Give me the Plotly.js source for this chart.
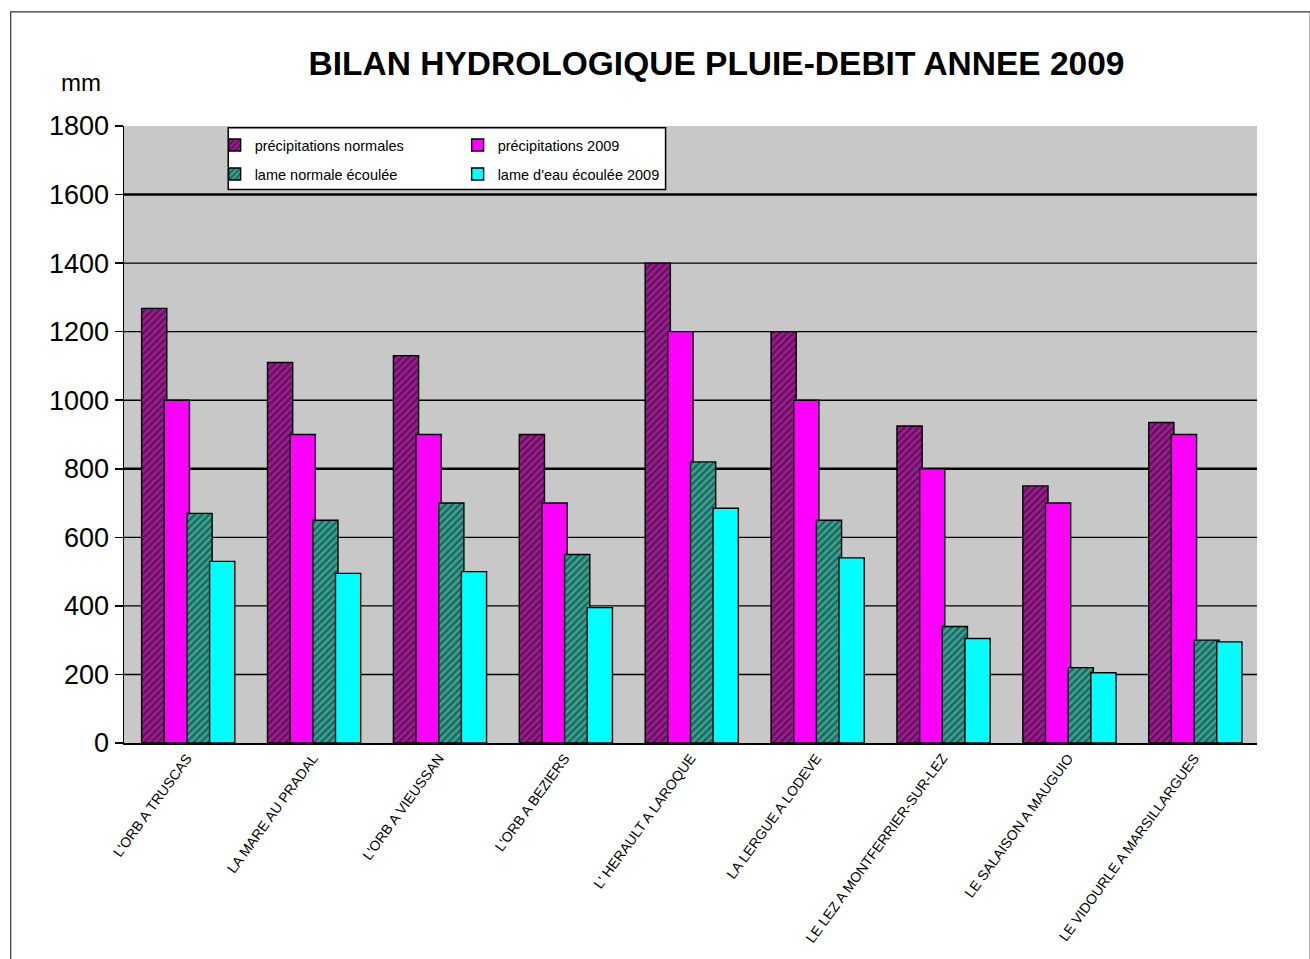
<!DOCTYPE html>
<html>
<head>
<meta charset="utf-8">
<script src="https://cdn.plot.ly/plotly-3.0.1.min.js"></script>
<style>html,body{margin:0;padding:0;background:#fff;}#chart{width:1310px;height:959px;}</style>
</head>
<body>
<div id="chart"></div>
<script>
const stations = ["L'ORB A TRUSCAS", "LA MARE AU PRADAL", "L'ORB A VIEUSSAN", "L'ORB A BEZIERS", "L' HERAULT A LAROQUE", "LA LERGUE A LODEVE", "LE LEZ A MONTFERRIER-SUR-LEZ", "LE SALAISON A MAUGUIO", "LE VIDOURLE A MARSILLARGUES"];
const precipNormales = [1268, 1110, 1130, 900, 1400, 1200, 925, 750, 935];
const precip2009 = [1000, 900, 900, 700, 1200, 1000, 800, 700, 900];
const lameNormale = [670, 650, 700, 550, 820, 650, 340, 220, 300];
const lame2009 = [530, 495, 500, 395, 685, 540, 305, 205, 295];
const seriesNames = ["précipitations normales", "précipitations 2009", "lame normale écoulée", "lame d'eau écoulée 2009"];
const yTicks = [0, 200, 400, 600, 800, 1000, 1200, 1400, 1600, 1800];

const FONT = "Liberation Sans, Arial, sans-serif";
const W = 0.2, OFF = [-0.36, -0.18, 0.0, 0.18];
const line = {color: '#000', width: 1.4};

const traces = [
  {y: precipNormales, name: seriesNames[0], legend: 'legend',
   marker: {color: '#7a1670', line: line, pattern: {shape: '/', bgcolor: '#a01e92', fgcolor: '#25062a', size: 5, solidity: 0.5, fillmode: 'overlay'}}},
  {y: precip2009, name: seriesNames[1], legend: 'legend',
   marker: {color: '#ff00ff', line: line}},
  {y: lameNormale, name: seriesNames[2], legend: 'legend2',
   marker: {color: '#2e8c80', line: line, pattern: {shape: '/', bgcolor: '#38a494', fgcolor: '#082824', size: 5, solidity: 0.5, fillmode: 'overlay'}}},
  {y: lame2009, name: seriesNames[3], legend: 'legend2',
   marker: {color: '#00ffff', line: line}}
].map((t, i) => Object.assign({
  type: 'bar', x: stations, width: W, offset: OFF[i], hoverinfo: 'x+y+name'
}, t));

const shapes = yTicks.filter(v => v > 0 && v < 1800).map(v => ({
  type: 'line', xref: 'paper', x0: 0, x1: 1, yref: 'y', y0: v, y1: v,
  line: {color: '#000', width: (v % 800 === 0) ? 2.4 : 1.4}, layer: 'below'
}));
// legend box
shapes.push({type: 'rect', xref: 'paper', yref: 'paper', x0: 0.092, x1: 0.478, y0: 0.897, y1: 0.997,
  fillcolor: '#fff', line: {color: '#000', width: 1.5}, layer: 'above'});
// outer frame
shapes.push({type: 'rect', xref: 'paper', yref: 'paper', x0: -0.1, x1: 1.047, y0: -0.36, y1: 1.185,
  fillcolor: 'rgba(0,0,0,0)', line: {color: '#333', width: 1.2}, layer: 'above'});

const legendCommon = {
  orientation: 'h', xanchor: 'left', yanchor: 'top', bgcolor: 'rgba(0,0,0,0)', borderwidth: 0,
  font: {family: FONT, size: 14.5, color: '#000'}, entrywidth: 198, itemwidth: 30, tracegroupgap: 0
};

const layout = {
  width: 1310, height: 959,
  margin: {l: 124, r: 53, t: 126, b: 216},
  paper_bgcolor: '#fff', plot_bgcolor: '#c8c8c8',
  barmode: 'overlay',
  title: {text: 'BILAN HYDROLOGIQUE PLUIE-DEBIT ANNEE 2009', font: {family: FONT, size: 33.5, color: '#000', weight: 'bold'},
    xref: 'container', yref: 'container', x: 0.547, xanchor: 'center', y: 1 - 63 / 959, yanchor: 'middle'},
  xaxis: {type: 'category', showgrid: false, showline: true, linecolor: '#000', linewidth: 1.5,
    ticks: '', tickangle: -54, tickfont: {family: FONT, size: 14, color: '#000'}, range: [-0.5, 8.5]},
  yaxis: {range: [0, 1800], tickvals: yTicks, showgrid: false, zeroline: false, showline: true, linecolor: '#000', linewidth: 1.5,
    ticks: 'outside', ticklen: 8, tickcolor: '#000', tickwidth: 1.5, ticklabelstandoff: 0,
    tickfont: {family: FONT, size: 27, color: '#000'}},
  shapes: shapes,
  legend: Object.assign({}, legendCommon, {x: 0.080, y: 0.995}),
  legend2: Object.assign({}, legendCommon, {x: 0.080, y: 0.948}),
  annotations: [{text: 'mm', xref: 'paper', yref: 'paper', x: -0.038, y: 1.07, xanchor: 'center', yanchor: 'middle',
    showarrow: false, font: {family: FONT, size: 24, color: '#000'}}],
  showlegend: true
};

Plotly.newPlot('chart', traces, layout, {displayModeBar: false, staticPlot: true});
</script>
</body>
</html>
